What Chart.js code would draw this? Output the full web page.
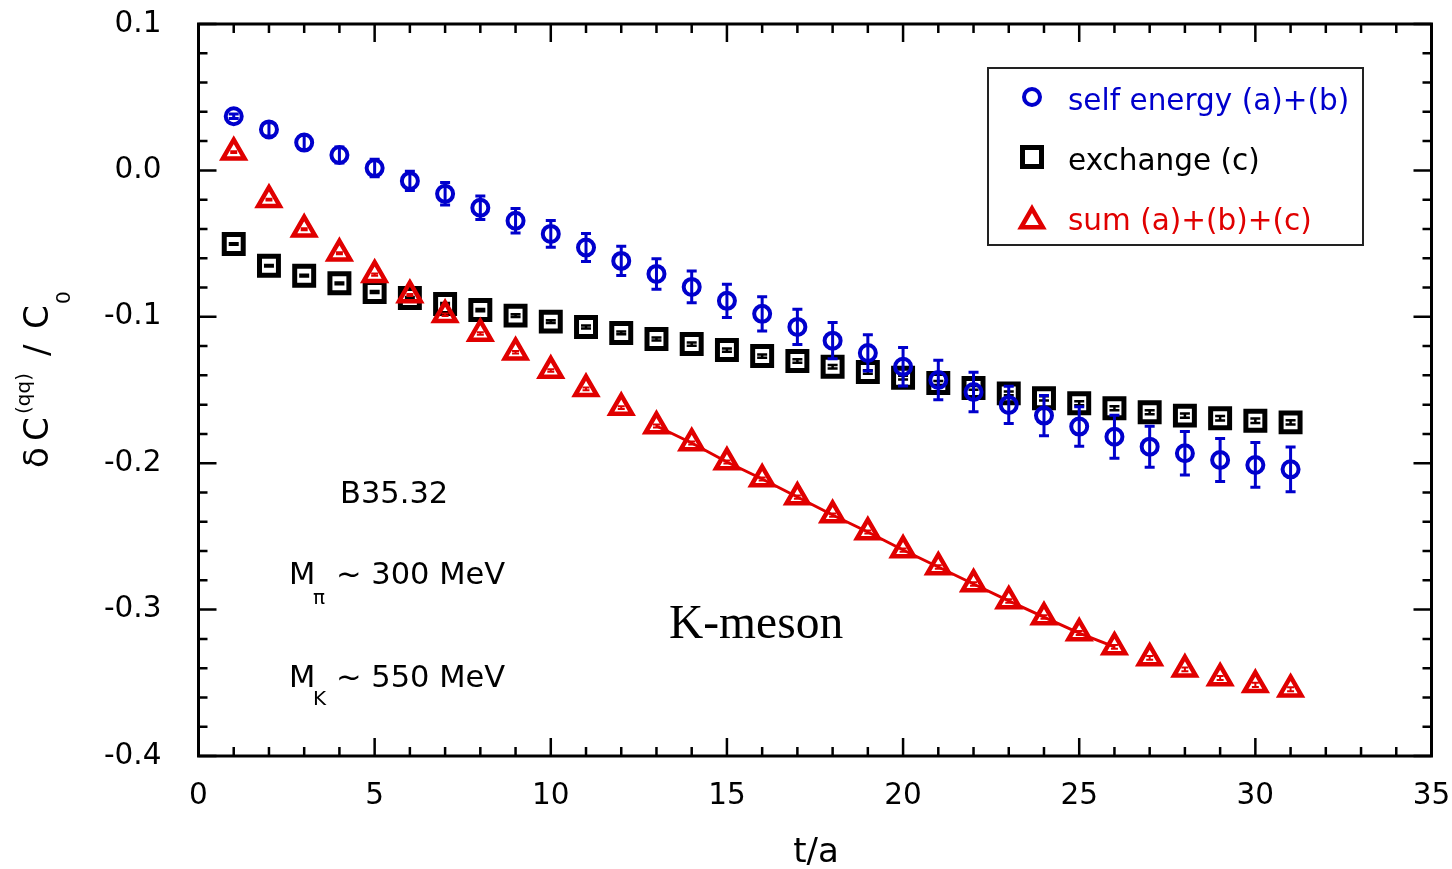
<!DOCTYPE html>
<html>
<head>
<meta charset="utf-8">
<script src="https://cdn.jsdelivr.net/npm/chart.js@4.4.1/dist/chart.umd.min.js"></script>
<style>
  html, body { margin: 0; padding: 0; background: #fff; }
  #wrap { width: 1452px; height: 869px; }
</style>
</head>
<body>
<div id="wrap"><canvas id="myChart-deltaC" width="1452" height="869"></canvas></div>
<script>
// t/a values
const timeSlices = [1, 2, 3, 4, 5, 6, 7, 8, 9, 10, 11, 12, 13, 14, 15, 16, 17, 18, 19, 20, 21, 22, 23, 24, 25, 26, 27, 28, 29, 30, 31];

// self energy (a)+(b)
const selfEnergy = [0.037, 0.028, 0.019, 0.0105, 0.0016, -0.0072, -0.016, -0.0255, -0.0344, -0.0434,
  -0.0527, -0.0618, -0.0707, -0.0796, -0.0891, -0.098, -0.1069, -0.1163, -0.1247, -0.1341,
  -0.1432, -0.1514, -0.1602, -0.1675, -0.175, -0.1819, -0.1887, -0.1932, -0.1978, -0.2012, -0.2042];
const selfEnergyErr = [0.0015, 0.0045, 0.0048, 0.0054, 0.006, 0.0066, 0.0077, 0.008, 0.0084, 0.0091,
  0.0096, 0.01, 0.0104, 0.0108, 0.0114, 0.0117, 0.0121, 0.0124, 0.0124, 0.0131,
  0.0135, 0.0135, 0.0127, 0.0138, 0.0135, 0.0147, 0.014, 0.0149, 0.0147, 0.0153, 0.0153];

// exchange (c)
const exchange = [-0.0503, -0.0651, -0.0719, -0.0771, -0.0831, -0.0872, -0.0913, -0.0954, -0.0992, -0.1033,
  -0.107, -0.111, -0.1152, -0.1186, -0.1227, -0.1268, -0.1302, -0.1341, -0.1377, -0.1416,
  -0.1452, -0.1486, -0.1523, -0.1557, -0.1591, -0.1625, -0.1652, -0.1675, -0.1693, -0.171, -0.1721];
const exchangeErr = [0.0005, 0.0005, 0.0006, 0.0006, 0.0007, 0.0007, 0.0008, 0.0008, 0.0009, 0.0009,
  0.001, 0.001, 0.001, 0.0011, 0.0011, 0.0011, 0.0012, 0.0012, 0.0012, 0.0013,
  0.0013, 0.0013, 0.0013, 0.0014, 0.0014, 0.0014, 0.0014, 0.0015, 0.0015, 0.0015, 0.0015];

// sum (a)+(b)+(c)
const sumAll = [0.0124, -0.02, -0.0402, -0.0566, -0.0712, -0.0851, -0.0986, -0.1114, -0.1242, -0.1367,
  -0.1492, -0.162, -0.1746, -0.1862, -0.1992, -0.2108, -0.2231, -0.2354, -0.247, -0.2593,
  -0.2709, -0.2825, -0.2941, -0.3051, -0.316, -0.3255, -0.333, -0.3408, -0.3467, -0.3514, -0.3544];
const sumAllErr = [0.0006, 0.0006, 0.0006, 0.0007, 0.0007, 0.0007, 0.0008, 0.0008, 0.0008, 0.0009,
  0.0009, 0.0009, 0.001, 0.001, 0.001, 0.001, 0.0011, 0.0011, 0.0011, 0.0011,
  0.0012, 0.0012, 0.0012, 0.0012, 0.0013, 0.0013, 0.0013, 0.0013, 0.0014, 0.0014, 0.0014];

// fit line through the sum
const fitT = [13, 14, 15, 16, 17, 18, 19, 20, 21, 22, 23, 24, 25, 26];
const fitSum = [-0.1746, -0.1862, -0.1992, -0.2108, -0.2231, -0.2354, -0.247, -0.2593,
  -0.2709, -0.2825, -0.2941, -0.3051, -0.316, -0.3255];

const seriesNames = ['self energy (a)+(b)', 'exchange (c)', 'sum (a)+(b)+(c)'];

const BLUE = '#0000cc';
const RED = '#e00000';
const BLACK = '#000000';
const FONT = 'DejaVu Sans';

function points(xs, ys) {
  return xs.map((x, i) => ({ x: x, y: ys[i] }));
}

// error bars drawn right after each dataset
const errorBars = {
  id: 'errorBars',
  afterDatasetDraw(chart, args) {
    const ds = chart.data.datasets[args.index];
    if (!ds.errors) return;
    const ctx = chart.ctx;
    const xs = chart.scales.x, ys = chart.scales.y;
    const cap = ds.capHalf || 5;
    ctx.save();
    ctx.strokeStyle = ds.borderColor;
    ctx.lineWidth = ds.errorWidth || 3;
    ds.data.forEach((p, i) => {
      const e = ds.errors[i];
      const x = xs.getPixelForValue(p.x);
      const y1 = ys.getPixelForValue(p.y + e);
      const y2 = ys.getPixelForValue(p.y - e);
      ctx.beginPath();
      ctx.moveTo(x, y1); ctx.lineTo(x, y2);
      ctx.moveTo(x - cap, y1); ctx.lineTo(x + cap, y1);
      ctx.moveTo(x - cap, y2); ctx.lineTo(x + cap, y2);
      ctx.stroke();
    });
    ctx.restore();
  }
};

// frame with inward ticks on all four sides
const frameTicks = {
  id: 'frameTicks',
  beforeDatasetsDraw(chart) {
    const ctx = chart.ctx;
    const a = chart.chartArea;
    const xs = chart.scales.x, ys = chart.scales.y;
    ctx.save();
    ctx.strokeStyle = '#000';
    ctx.lineWidth = 3;
    ctx.strokeRect(a.left, a.top, a.right - a.left, a.bottom - a.top);
    ctx.lineWidth = 2.5;
    ctx.beginPath();
    for (let v = 0; v <= 35; v++) {
      const x = xs.getPixelForValue(v);
      const len = v % 5 === 0 ? 18 : 9;
      ctx.moveTo(x, a.bottom); ctx.lineTo(x, a.bottom - len);
      ctx.moveTo(x, a.top); ctx.lineTo(x, a.top + len);
    }
    for (let k = -20; k <= 5; k++) {
      const y = ys.getPixelForValue(k * 0.02);
      const len = k % 5 === 0 ? 18 : 9;
      ctx.moveTo(a.left, y); ctx.lineTo(a.left + len, y);
      ctx.moveTo(a.right, y); ctx.lineTo(a.right - len, y);
    }
    ctx.stroke();
    ctx.restore();
  }
};

function marker(ctx, style, x, y, color) {
  ctx.save();
  ctx.strokeStyle = color;
  ctx.beginPath();
  if (style === 'circle') {
    ctx.lineWidth = 4;
    ctx.arc(x, y, 8, 0, Math.PI * 2);
  } else if (style === 'rect') {
    ctx.lineWidth = 5;
    ctx.rect(x - 9.5, y - 9.5, 19, 19);
  } else {
    ctx.lineWidth = 4.5;
    const r = 12.5;
    ctx.moveTo(x, y - r);
    ctx.lineTo(x + r * Math.sin(Math.PI * 2 / 3), y + r / 2);
    ctx.lineTo(x - r * Math.sin(Math.PI * 2 / 3), y + r / 2);
    ctx.closePath();
  }
  ctx.stroke();
  ctx.restore();
}

// legend, axis titles and annotations
const textLayer = {
  id: 'textLayer',
  afterDraw(chart) {
    const ctx = chart.ctx;
    ctx.save();
    ctx.textBaseline = 'alphabetic';
    ctx.textAlign = 'left';

    // legend box
    ctx.strokeStyle = '#222';
    ctx.lineWidth = 2;
    ctx.strokeRect(988, 68, 375, 177);
    const styles = ['circle', 'rect', 'triangle'];
    const colors = [BLUE, BLACK, RED];
    const rowY = [97, 157, 221];
    const baseY = [110, 170, 230];
    ctx.font = '29.5px "' + FONT + '"';
    for (let i = 0; i < 3; i++) {
      marker(ctx, styles[i], 1032, rowY[i], colors[i]);
      ctx.fillStyle = colors[i];
      ctx.fillText(seriesNames[i], 1068, baseY[i]);
    }

    // annotations
    ctx.fillStyle = '#000';
    ctx.font = '30.5px "' + FONT + '"';
    ctx.fillText('B35.32', 340, 503);
    ctx.fillText('M', 289, 584);
    ctx.fillText('~ 300 MeV', 336, 584);
    ctx.fillText('M', 289, 687);
    ctx.fillText('~ 550 MeV', 336, 687);
    ctx.font = '20px "' + FONT + '"';
    ctx.fillText('\u03c0', 313, 604);
    ctx.fillText('K', 313, 705);
    ctx.font = '47.5px "Liberation Serif"';
    ctx.fillText('K-meson', 669, 638);

    // x title
    ctx.font = '34px "' + FONT + '"';
    ctx.textAlign = 'center';
    ctx.fillText('t/a', 816, 862);

    // y title, rotated
    ctx.textAlign = 'left';
    ctx.translate(48, 470);
    ctx.rotate(-Math.PI / 2);
    ctx.font = '34px "' + FONT + '"';
    ctx.fillText('\u03b4', 2, 0);
    ctx.fillText('C', 29, 0);
    ctx.font = '20px "' + FONT + '"';
    ctx.fillText('(qq)', 56, -18);
    ctx.font = '34px "' + FONT + '"';
    ctx.fillText('/', 114, 0);
    ctx.fillText('C', 141, 0);
    ctx.font = '20px "' + FONT + '"';
    ctx.fillText('0', 166, 22);
    ctx.restore();
  }
};

const ctx = document.getElementById('myChart-deltaC');
new Chart(ctx, {
  type: 'scatter',
  data: {
    datasets: [
      {
        label: seriesNames[0],
        data: points(timeSlices, selfEnergy),
        errors: selfEnergyErr,
        errorWidth: 3,
        capHalf: 5,
        pointStyle: 'circle',
        pointRadius: 8,
        borderWidth: 4,
        borderColor: BLUE,
        backgroundColor: 'rgba(0,0,0,0)',
        order: 0
      },
      {
        label: seriesNames[2],
        data: points(timeSlices, sumAll),
        errors: sumAllErr,
        errorWidth: 2,
        capHalf: 3.5,
        pointStyle: 'triangle',
        pointRadius: 12.5,
        borderWidth: 4.5,
        borderColor: RED,
        backgroundColor: 'rgba(0,0,0,0)',
        order: 1
      },
      {
        label: seriesNames[1],
        data: points(timeSlices, exchange),
        errors: exchangeErr,
        errorWidth: 2.5,
        capHalf: 5,
        pointStyle: 'rect',
        pointRadius: 13.4,
        borderWidth: 5,
        borderColor: BLACK,
        backgroundColor: 'rgba(0,0,0,0)',
        order: 2
      },
      {
        type: 'line',
        label: 'fit',
        data: points(fitT, fitSum),
        showLine: true,
        borderColor: RED,
        borderWidth: 3,
        pointRadius: 0,
        fill: false,
        tension: 0,
        order: 3
      }
    ]
  },
  options: {
    responsive: false,
    animation: false,
    layout: { padding: { left: 0, top: 24, right: 20.5, bottom: 0 } },
    plugins: {
      legend: { display: false },
      tooltip: { enabled: false }
    },
    scales: {
      x: {
        type: 'linear',
        min: 0,
        max: 35,
        ticks: { stepSize: 5, padding: 23, color: '#000', font: { family: FONT, size: 29.5 } },
        grid: { display: false, drawTicks: false },
        border: { display: false },
        afterFit(scale) {
          scale.height = 113;
          scale.paddingLeft = 0;
          scale.paddingRight = 0;
        }
      },
      y: {
        type: 'linear',
        min: -0.4,
        max: 0.1,
        ticks: {
          stepSize: 0.1,
          padding: 37,
          color: '#000',
          font: { family: FONT, size: 29.5 },
          callback: v => (Math.abs(v) < 1e-9 ? '0.0' : v.toFixed(1))
        },
        grid: { display: false, drawTicks: false },
        border: { display: false },
        afterFit(scale) {
          scale.width = 198.5;
          scale.paddingTop = 0;
          scale.paddingBottom = 0;
        }
      }
    }
  },
  plugins: [frameTicks, errorBars, textLayer]
});
</script>
</body>
</html>
